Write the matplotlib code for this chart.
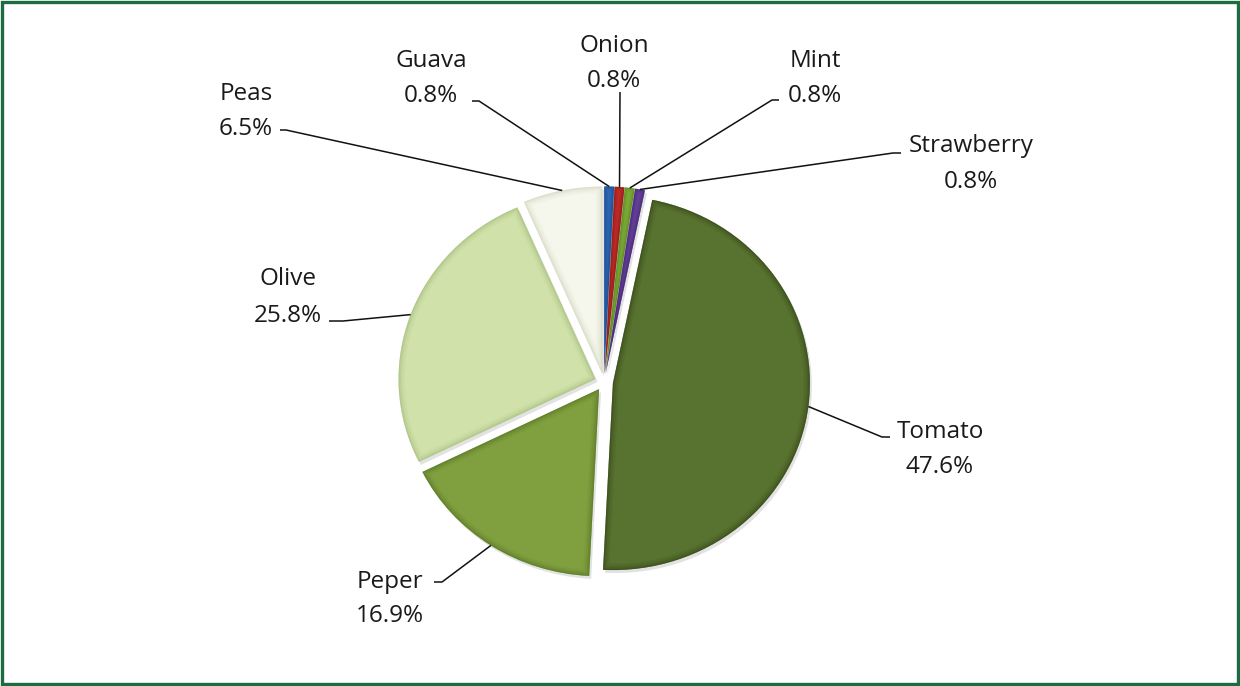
import numpy as np
import matplotlib.pyplot as plt
from matplotlib.patches import Rectangle, PathPatch
from matplotlib.transforms import Affine2D

plt.rcParams['font.family'] = ['Open Sans', 'DejaVu Sans']

crops = ['Guava', 'Onion', 'Mint', 'Strawberry', 'Tomato', 'Peper', 'Olive', 'Peas']
shares = [0.8, 0.8, 0.8, 0.8, 47.6, 16.9, 25.8, 6.5]
colors = ['#2f6fc0', '#c8302c', '#84b33c', '#6b45a3',
          '#58722f', '#80a040', '#d0e2a9', '#f5f7ec']
shades = ['#173f7a', '#7c1411', '#4f7a1c', '#3a2063',
          '#2f4016', '#4f6e1e', '#9fb878', '#c9cfb6']

# label layout in pixels: text centre x, baseline of name, baseline of percentage
label_x = [431, 614, 815, 971, 940, 390, 288, 246]
name_y = [67, 52, 67, 152, 438, 588, 285, 100]
pct_y = [102, 87, 102, 188, 473, 622, 322, 135]
# where each leader line leaves its label, and length of the flat stub
line_start = [(472, 101), (620, 92), (779, 100), (901, 153),
              (890, 437), (434, 582), (329, 321), (280, 130)]
stub = [7, 0, -7, -8, -8, 8, 14, 6]

W, H = 1240, 686
rx, ry = 197, 187          # chart area is slightly stretched horizontally
k = rx / ry
cx, cy = 604, 382
gap = 9


def Y(y):
    return (H - y) * k


fig = plt.figure(figsize=(W / 100, H / 100), dpi=100)
ax = fig.add_axes([0, 0, 1, 1])

wedges, _ = ax.pie(shares, colors=colors, startangle=90, counterclock=False,
                   explode=[gap] * len(shares), radius=rx, center=(cx, Y(cy)),
                   wedgeprops=dict(linewidth=0))

# soft shadow and bevel-like darkening toward each slice edge
for w, sh in zip(wedges, shades):
    path = w.get_path()
    shadow = PathPatch(path, transform=w.get_transform() + Affine2D().translate(2, -3),
                       facecolor='#a0a0a0', edgecolor='none', alpha=0.3, zorder=0)
    ax.add_patch(shadow)
    for lw, a in [(9, 0.10), (6, 0.14), (3.5, 0.2), (1.5, 0.35)]:
        p = PathPatch(path, transform=w.get_transform(), facecolor='none',
                      edgecolor=sh, linewidth=lw, alpha=a, zorder=w.get_zorder() + 0.1)
        ax.add_patch(p)
        p.set_clip_path(w)

ax.set_aspect('auto')
ax.set_xlim(0, W)
ax.set_ylim(0, H * k)
ax.axis('off')

for w, name, val, lx, ny, py_, (sx, sy), s in zip(wedges, crops, shares, label_x,
                                                  name_y, pct_y, line_start, stub):
    mid = np.deg2rad((w.theta1 + w.theta2) / 2)
    ox, oy = w.center
    ex = ox + rx * np.cos(mid)
    ey = oy + rx * np.sin(mid)
    xs = [sx, sx + s, ex] if s else [sx, ex]
    ys = [Y(sy), Y(sy), ey] if s else [Y(sy), ey]
    ax.plot(xs, ys, color='#111111', lw=1.1, solid_capstyle='butt', zorder=5)
    ax.text(lx, Y(ny), name, ha='center', va='baseline', fontsize=17.5, color='#1a1a1a')
    ax.text(lx, Y(py_), f'{val:.1f}%', ha='center', va='baseline', fontsize=17.5,
            color='#1a1a1a')

fig.patches.append(Rectangle((0.0015, 0.0025), 0.997, 0.995, transform=fig.transFigure,
                             fill=False, edgecolor='#1d6b41', linewidth=2.4))

fig.savefig('out.png', dpi=100)
